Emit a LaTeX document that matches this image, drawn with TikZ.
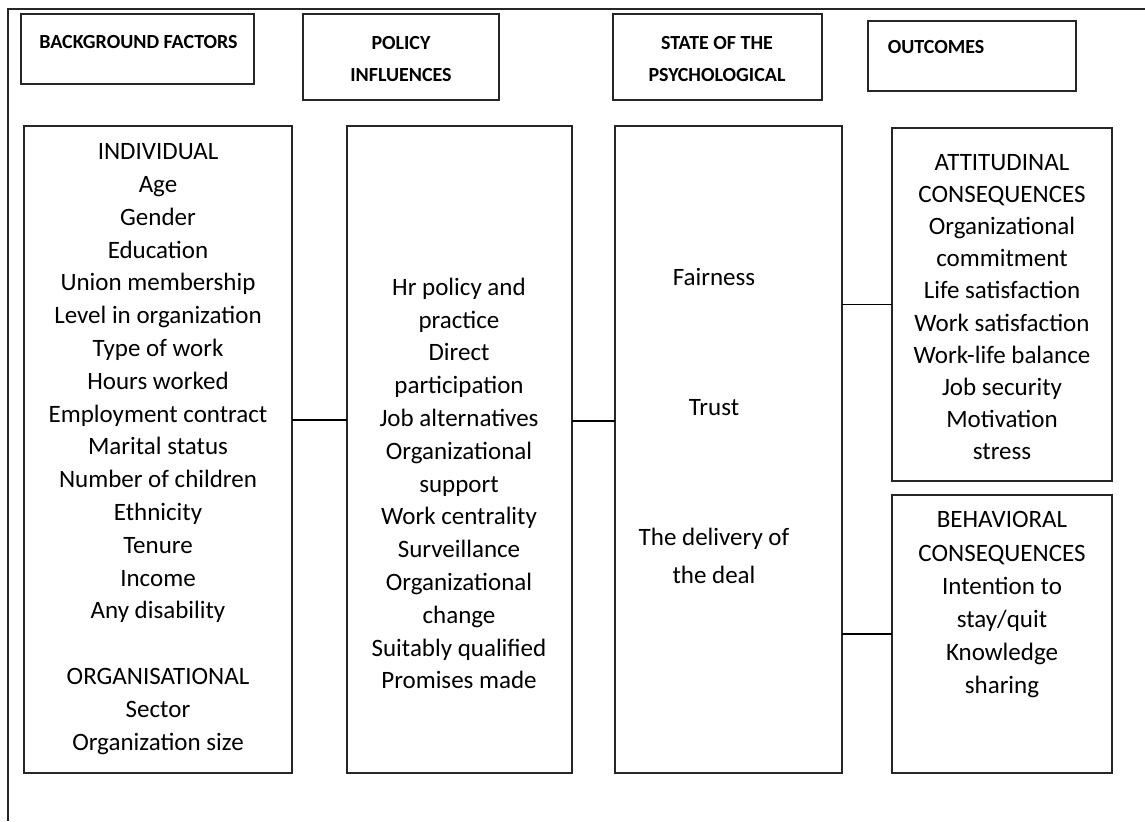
\documentclass[tikz,border=0pt]{standalone}
\usepackage{fontspec}
\setmainfont{Carlito}
\usepackage{tikz}

\begin{document}
\begin{tikzpicture}[x=0.5pt,y=-0.5pt,line width=0.8pt,
  box/.style={draw=black!85,inner sep=0pt,outer sep=0pt},
  head/.style={font=\bfseries\fontsize{10}{16}\selectfont,align=center,inner sep=0pt},
  body/.style={font=\fontsize{12.5}{16.4}\selectfont,align=center,inner sep=0pt}]
\useasboundingbox (0,0) rectangle (1145,821);

% open frame
\draw[black!85] (8,821) -- (8,9) -- (1145,9);

% headers
\node (H1) at (137.5,49) [box, minimum width=116.5pt, minimum height=35pt] {};
\node (H2) at (401,57) [box, minimum width=98pt, minimum height=43pt] {};
\node (H3) at (717.5,57) [box, minimum width=104.5pt, minimum height=43pt] {};
\node (H4) at (972,56) [box, minimum width=104pt, minimum height=35pt] {};
\node (h1) at (138.5,42) [head] {BACKGROUND FACTORS};
\node (h2) at (401,59) [head] {POLICY\\INFLUENCES};
\node (h3) at (717,59) [head] {STATE OF THE\\PSYCHOLOGICAL};
\node (h4) at (887,47) [head,anchor=west] {OUTCOMES};

% columns
\node (B1) at (158,449.5) [box, minimum width=134pt, minimum height=323.5pt] {};
\node (B2) at (459.5,449.5) [box, minimum width=112.5pt, minimum height=323.5pt] {};
\node (B3) at (728.5,449.5) [box, minimum width=113.5pt, minimum height=323.5pt] {};
\node (B4) at (1002,304.5) [box, minimum width=110pt, minimum height=176.5pt] {};
\node (B5) at (1002,634) [box, minimum width=110pt, minimum height=139pt] {};

\node (T1) at (158,449) [body] {INDIVIDUAL\\Age\\Gender\\Education\\Union membership\\Level in organization\\Type of work\\Hours worked\\Employment contract\\Marital status\\Number of children\\Ethnicity\\Tenure\\Income\\Any disability\\[16.4pt]ORGANISATIONAL\\Sector\\Organization size};
\node (T2) at (459,483.5) [body] {Hr policy and\\practice\\Direct\\participation\\Job alternatives\\Organizational\\support\\Work centrality\\Surveillance\\Organizational\\change\\Suitably qualified\\Promises made};
\node (F1) at (714,277) [body] {Fairness};
\node (F2) at (714,408) [body] {Trust};
\node (F3) at (714,556) [body,font=\fontsize{12.5}{19}\selectfont] {The delivery of\\the deal};
\node (T4) at (1002,307) [body,font=\fontsize{12.5}{16.1}\selectfont] {ATTITUDINAL\\CONSEQUENCES\\Organizational\\commitment\\Life satisfaction\\Work satisfaction\\Work-life balance\\Job security\\Motivation\\stress};
\node (T5) at (1002,605) [body,font=\fontsize{12.5}{16.6}\selectfont] {BEHAVIORAL\\CONSEQUENCES\\Intention to\\stay/quit\\Knowledge\\sharing};

% links
\draw ([yshift=14.75pt]B1.east) -- ([yshift=14.75pt]B2.west);
\draw ([yshift=14.25pt]B2.east) -- ([yshift=14.25pt]B3.west);
\draw (B3.east |- B4.west) -- (B4.west);
\draw (B3.east |- B5.west) -- (B5.west);
\end{tikzpicture}
\end{document}
